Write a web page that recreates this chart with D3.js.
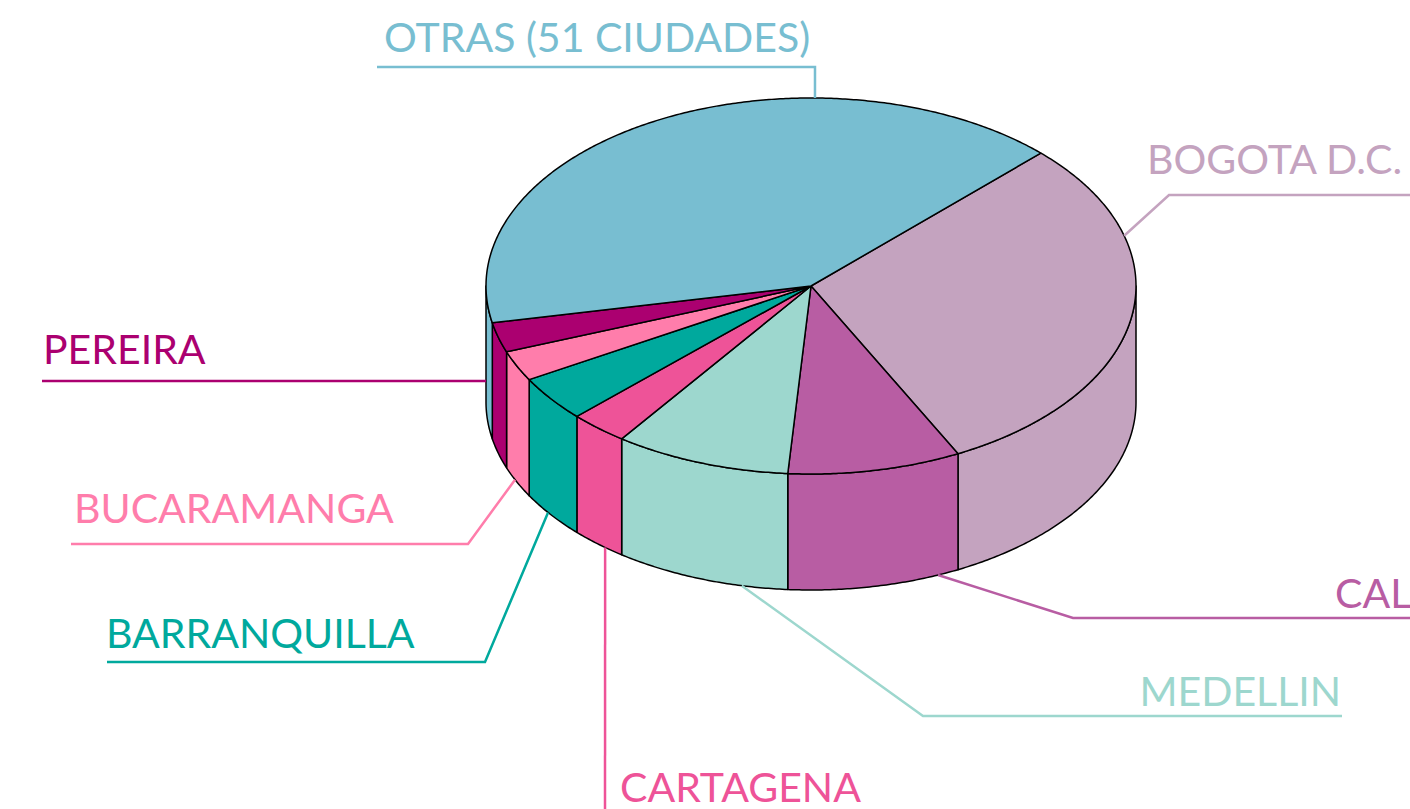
<!DOCTYPE html>
<html><head><meta charset="utf-8">
<script src="https://cdn.jsdelivr.net/npm/d3@7"></script>
<style>html,body{margin:0;padding:0;background:#fff;overflow:hidden}svg{display:block}</style>
</head><body>
<svg id="chart" width="1410" height="809"></svg>
<script>
// ---- data ----
const categories = ["BOGOTA D.C.", "CALI", "MEDELLIN", "CARTAGENA", "BARRANQUILLA", "BUCARAMANGA", "PEREIRA", "OTRAS (51 CIUDADES)"];
const shares = [30.0, 8.6, 8.75, 2.9, 3.9, 2.6, 2.55, 40.6];
const colors = ["#C4A3BF", "#B85DA3", "#9DD7CE", "#EE5398", "#00A99D", "#FF7DAB", "#AB0070", "#78BED1"];

// ---- layout ----
const W = 1410, H = 809;
const cx = 811, cy = 286, rx = 325, ry = 188, depth = 116;
const startDeg = -45;
const fontFamily = "Lato, 'Open Sans', sans-serif";
const fontSize = 41;

// label layout (annotation geometry): anchor on pie = [angleDeg, z(0 top..1 bottom)]
const labelLayout = [
  {tx: 1147, ty: 174, anchor: "start", from: [-15.5, 0], via: [[1169, 195], [1412, 195]]},
  {tx: 1335, ty: 608, anchor: "start", from: [67, 1],   via: [[1073, 618], [1412, 618]]},
  {tx: 1341, ty: 706, anchor: "end",   from: [102.3, 1], via: [[923, 716], [1342, 716]]},
  {tx: 620,  ty: 802, anchor: "start", from: [129.3, 1], via: [[605, 812]]},
  {tx: 106,  ty: 648, anchor: "start", from: [144, 1],  via: [[485, 662], [107, 662]]},
  {tx: 74,   ty: 523, anchor: "start", from: [155.6, 1], via: [[468, 544], [71, 544]]},
  {tx: 43,   ty: 364, anchor: "start", from: [180, 0.82], via: [[42, 381]]},
  {tx: 384,  ty: 52,  anchor: "start", from: [270.7, 0], via: [[815, 67], [377, 67]]}
];

const svg = d3.select("#chart");
const rad = d => d * Math.PI / 180;
const xS = d3.scaleLinear().domain([-1, 1]).range([cx - rx, cx + rx]);
const yS = d3.scaleLinear().domain([-1, 1]).range([cy - ry, cy + ry]);
const pt = (a, z) => [xS(Math.cos(a)), yS(Math.sin(a)) + z * depth];

const pie = d3.pie().sort(null).value(d => d)
  .startAngle(rad(startDeg)).endAngle(rad(startDeg) + 2 * Math.PI);
const arcs = pie(shares);

function arcPts(a0, a1, z) {
  const n = Math.max(2, Math.ceil(Math.abs(a1 - a0) / rad(0.5)));
  return d3.range(n + 1).map(i => pt(a0 + (a1 - a0) * i / n, z));
}
const line = d3.line();

// side walls (front half only)
const gSide = svg.append("g");
arcs.forEach((d, i) => {
  const a0 = Math.max(d.startAngle, 0), a1 = Math.min(d.endAngle, Math.PI);
  if (a1 <= a0) return;
  const pts = arcPts(a0, a1, 0).concat(arcPts(a1, a0, 1));
  gSide.append("path")
    .attr("d", line(pts) + "Z")
    .attr("fill", colors[i])
    .attr("stroke", "#000").attr("stroke-width", 1.5).attr("stroke-linejoin", "round");
});

// top faces
const gTop = svg.append("g");
arcs.forEach((d, i) => {
  const pts = [[cx, cy]].concat(arcPts(d.startAngle, d.endAngle, 0));
  gTop.append("path")
    .attr("d", line(pts) + "Z")
    .attr("fill", colors[i])
    .attr("stroke", "#000").attr("stroke-width", 1.5).attr("stroke-linejoin", "round");
});

// labels and leader lines
const gLab = svg.append("g");
categories.forEach((c, i) => {
  const L = labelLayout[i];
  const pts = [pt(rad(L.from[0]), L.from[1])].concat(L.via);
  gLab.append("path").attr("d", line(pts))
    .attr("fill", "none").attr("stroke", colors[i]).attr("stroke-width", 2.5);
  gLab.append("text")
    .attr("x", L.tx).attr("y", L.ty)
    .attr("text-anchor", L.anchor)
    .attr("font-family", fontFamily).attr("font-size", fontSize)
    .attr("fill", colors[i])
    .text(c);
});
</script>
</body></html>
